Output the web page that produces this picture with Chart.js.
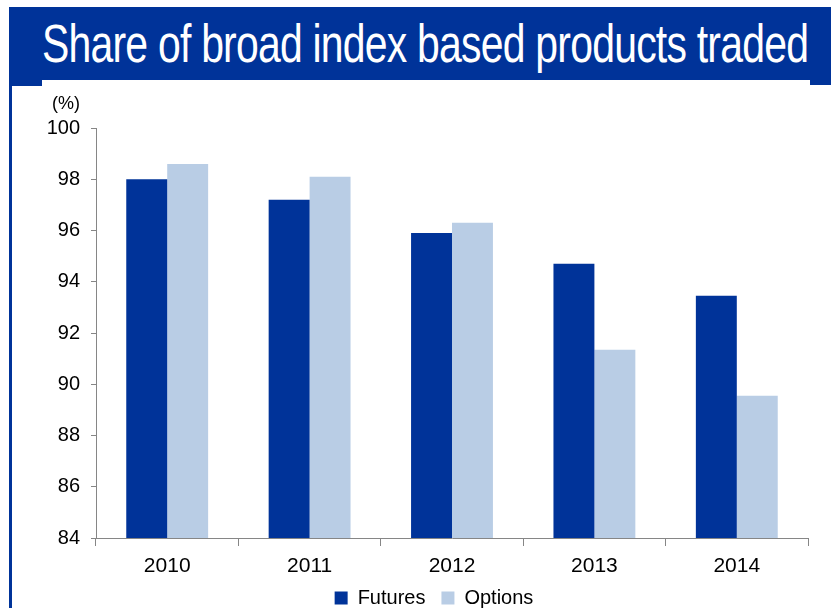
<!DOCTYPE html>
<html>
<head>
<meta charset="utf-8">
<script src="https://cdn.jsdelivr.net/npm/chart.js@4"></script>
<style>
  body { margin: 0; background: #fff; }
  #wrap { position: relative; width: 831px; height: 608px; overflow: hidden; }
  #band { position: absolute; left: 9px; top: 7px; width: 822px; height: 73px; background: #003399; }
  #bandL { position: absolute; left: 9px; top: 80px; width: 33px; height: 6px; background: #003399; }
  #bandR { position: absolute; left: 810px; top: 80px; width: 21px; height: 5px; background: #003399; }
  #lineL { position: absolute; left: 9px; top: 86px; width: 3px; height: 522px; background: #003399; }
  #title { position: absolute; left: 42px; top: 17px; color: #fff; font: 53px "Liberation Sans", Arial, sans-serif;
           white-space: nowrap; transform-origin: 0 0; letter-spacing: -1px; line-height: 1; }
  canvas { position: absolute; left: 0; top: 0; }
</style>
</head>
<body>
<div id="wrap">
  <div id="band"></div><div id="bandL"></div><div id="bandR"></div><div id="lineL"></div>
  <div id="title">Share of broad index based products traded</div>
  <canvas id="chart" width="831" height="608"></canvas>
</div>
<script>
// Daten
var years = ["2010", "2011", "2012", "2013", "2014"];
var futures = [98.0, 97.2, 95.9, 94.7, 93.45];
var options = [98.6, 98.1, 96.3, 91.35, 89.55];

// Titel auf Breite stauchen
var t = document.getElementById("title");
t.style.transform = "scaleX(" + (766 / t.scrollWidth) + ")";

var fontFam = "'Liberation Sans', Arial, sans-serif";

// Einheit oben links
var unitLabel = {
  id: "unitLabel",
  afterDraw: function(chart) {
    var ctx = chart.ctx;
    ctx.save();
    ctx.fillStyle = "#000";
    ctx.font = "18px " + fontFam;
    ctx.textAlign = "left";
    ctx.textBaseline = "middle";
    ctx.fillText("(%)", 52, 104);
    ctx.restore();
  }
};

// Legende etwas nach rechts schieben
var legendShift = {
  id: "legendShift",
  afterLayout: function(chart) {
    chart.legend.left += 10;
    chart.legend.right += 10;
  }
};

var chartdata = {
  labels: years,
  datasets: [
    { label: "Futures", backgroundColor: "#003399", data: futures },
    { label: "Options", backgroundColor: "#B9CDE5", data: options }
  ]
};

var ctx = document.getElementById("chart");
var myChart = new Chart(ctx, {
  type: "bar",
  data: chartdata,
  plugins: [unitLabel, legendShift],
  options: {
    responsive: false,
    animation: false,
    layout: { padding: { left: 40, right: 23, top: 128, bottom: -10 } },
    datasets: { bar: { categoryPercentage: 0.575, barPercentage: 1.0 } },
    scales: {
      x: {
        afterFit: function(scale) { scale.height = 34; },
        grid: { offset: true, drawOnChartArea: false, tickLength: 8, color: "#868686" },
        border: { color: "#868686" },
        ticks: { color: "#000", padding: 8, font: { size: 21, family: fontFam } }
      },
      y: {
        min: 84, max: 100,
        afterFit: function(scale) { scale.width = 56; },
        grid: { drawOnChartArea: false, tickLength: 5, color: "#868686" },
        border: { color: "#868686" },
        ticks: { stepSize: 2, color: "#000", padding: 11, font: { size: 20, family: fontFam } }
      }
    },
    plugins: {
      legend: {
        position: "bottom",
        labels: { boxWidth: 13, boxHeight: 13, padding: 16, color: "#000", font: { size: 20, family: fontFam } }
      },
      tooltip: { enabled: false }
    }
  }
});
</script>
</body>
</html>
